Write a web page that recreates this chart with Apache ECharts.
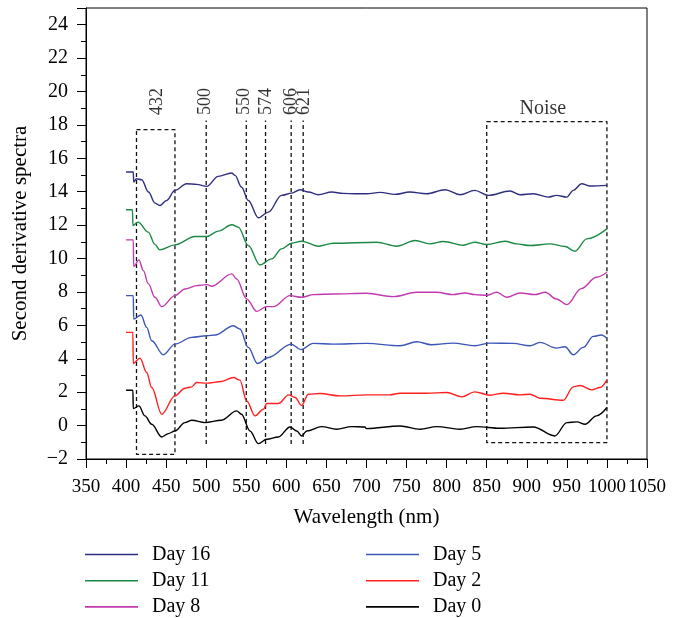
<!DOCTYPE html>
<html>
<head>
<meta charset="utf-8">
<script src="https://cdn.jsdelivr.net/npm/echarts@6/dist/echarts.min.js"></script>
<style>
  html, body { margin: 0; padding: 0; background: #fff; }
  #chart { width: 673px; height: 618px; }
</style>
</head>
<body>
<div id="chart"></div>
<script>
// Second derivative spectra, [wavelength (nm), value]
const day16 = [[400,15.18],[409,15.18],[409.5,14.58],[413,14.78],[419.5,14.72],[428,13.98],[436,13.32],[442,13.18],[450.7,13.48],[461,14.08],[475.6,14.48],[488,14.44],[500.6,14.32],[515,14.92],[531.8,15.12],[536,14.98],[544,14.28],[552.5,13.48],[565,12.44],[577.5,12.78],[594,13.78],[606.7,13.92],[617,14.12],[627.5,13.98],[640,13.82],[656.6,13.98],[671,13.9],[685.7,13.88],[700,13.88],[717,13.96],[735.6,13.84],[754,13.98],[775,13.88],[798,14.12],[816.7,13.82],[835,14.08],[852,13.78],[879,14.04],[891.6,13.82],[908,13.88],[927,13.68],[937,13.78],[950,13.68],[958,14.08],[968.5,14.48],[979,14.34],[1000,14.38]];
const day11 = [[400,12.92],[408,12.92],[408.5,11.98],[415,12.18],[427.7,11.58],[436,10.85],[442,10.52],[461,10.82],[486,11.32],[500.6,11.32],[515,11.64],[532,12.02],[540,11.88],[552.5,10.78],[567,9.62],[581.7,9.98],[594,10.58],[606.7,10.92],[619,11.04],[640,10.74],[658.6,10.92],[712.8,10.98],[737.6,10.74],[760.6,11.08],[779,10.88],[796,11.02],[820.8,10.8],[835,10.98],[850,10.84],[872.8,11.04],[887,10.88],[904,10.78],[929,10.88],[947.7,10.72],[960,10.44],[974.8,11.18],[1000,11.78]];
const day8 = [[400,11.12],[409,11.12],[409.5,9.52],[416,9.92],[421.6,9.28],[427.7,8.5],[436,7.68],[444.5,7.12],[461,7.78],[473.5,8.18],[488,8.38],[500.6,8.44],[507,8.34],[532,9.08],[538,8.78],[550.5,7.58],[563,6.84],[575.5,7.12],[583.7,7.12],[604.6,7.78],[619,7.68],[633.6,7.84],[658.6,7.88],[700,7.92],[733.5,7.72],[762.7,7.98],[787.7,7.98],[808,7.84],[823,7.94],[835,7.84],[850,7.8],[862.5,7.98],[875,7.68],[891.6,7.94],[910,7.84],[923,7.98],[937,7.58],[950,7.24],[968,8.2],[987,8.88],[1000,9.18]];
const day5 = [[400,7.78],[409,7.78],[409.5,6.38],[418.6,6.62],[425.7,5.88],[432,5.08],[446.5,4.24],[461,4.88],[482,5.28],[500.6,5.38],[511,5.42],[534,5.98],[542,5.78],[552.5,4.68],[564,3.72],[577.5,4.08],[606,4.88],[618,4.55],[633.6,4.92],[658.6,4.88],[700,4.92],[742,4.78],[762.7,5.02],[781,4.84],[808,4.94],[835,4.78],[854,4.94],[883,4.92],[904,4.78],[916.5,4.98],[937,4.64],[947.7,4.72],[958,4.24],[970.5,4.68],[983,5.34],[993,5.42],[1000,5.22]];
const day2 = [[400,5.58],[408.5,5.58],[409,3.72],[417.4,4.04],[425.7,3.18],[432,2.28],[444.5,0.68],[461,1.78],[473.5,2.24],[482,2.32],[488,2.58],[500.6,2.54],[519,2.64],[534,2.88],[542,2.72],[550.5,1.48],[561,0.58],[571.4,0.98],[575.5,1.32],[590,1.32],[603,1.84],[611,1.68],[619,1.2],[627.5,1.88],[642,1.92],[667,1.78],[700,1.84],[729,1.84],[742,1.94],[775,1.94],[800,1.98],[819,1.72],[835,2.02],[854,1.82],[870.7,1.94],[891.6,1.84],[904,1.88],[916.5,1.64],[945.6,1.52],[958,2.32],[966.4,2.4],[981,2.14],[991.4,2.28],[1000,2.74]];
const day0 = [[400,2.12],[408.5,2.12],[409,1.02],[416,1.18],[423.6,0.58],[432,0.08],[444.5,-0.68],[452.7,-0.48],[461,-0.32],[473.5,0.18],[482,0.32],[498.5,0.18],[519,0.32],[538,0.88],[544,0.68],[554.6,-0.32],[565,-1.08],[575.5,-0.82],[590,-0.68],[604.6,-0.08],[613,-0.32],[619,-0.62],[625.5,-0.32],[644,-0.06],[662.7,-0.22],[681.5,-0.06],[698,-0.08],[700,-0.18],[742,-0.02],[767,-0.22],[787.7,-0.06],[816.7,-0.22],[837.5,-0.06],[866.6,-0.16],[908,-0.08],[935,-0.62],[950,0.18],[962.5,0.22],[972.8,0.08],[987,0.58],[1000,1.08]];

const seriesNames = ['Day 16','Day 11','Day 8','Day 5','Day 2','Day 0'];
const seriesColors = ['#2e2f80','#1b8a45','#c23ab0','#3b55b8','#ff1f1f','#000000'];
const seriesData = [day16, day11, day8, day5, day2, day0];

// Marked wavelengths (dashed guides) and their labels
const guideWavelengths = [500, 550, 574, 606, 621];
const guideSpan = [-1.1, 18.27];
const peakLabels = [[438.6,19.4,'432'],[498.5,19.4,'500'],[547,19.4,'550'],[575.5,19.4,'574'],[606.7,19.4,'606'],[622,19.4,'621']];
// Dashed boxes: [x0, x1, yBottom, yTop]
const box432 = [413, 461, -1.72, 17.72];
const boxNoise = [850, 1000, -1.02, 18.2];
const noiseLabel = [[920, 18.95, 'Noise']];

const FONT = 'Liberation Serif';
const dash = { color: '#111', width: 1.3, type: [4, 3] };

function boxPath(b) {
  return [[b[0],b[3]],[b[1],b[3]],[b[1],b[2]],[b[0],b[2]],[b[0],b[3]]];
}

const series = seriesNames.map((n, i) => ({
  name: n, type: 'line', data: seriesData[i], showSymbol: false, symbol: 'none',
  smooth: 0.35, smoothMonotone: 'x',
  lineStyle: { color: seriesColors[i], width: 1.4 }, itemStyle: { color: seriesColors[i] },
  silent: true, z: 3
}));

guideWavelengths.forEach(w => {
  series.push({ type: 'line', data: [[w, guideSpan[0]], [w, guideSpan[1]]], symbol: 'none', lineStyle: dash, silent: true, z: 2 });
});
series.push({ type: 'line', data: boxPath(box432), symbol: 'none', lineStyle: dash, silent: true, z: 2 });
series.push({ type: 'line', data: boxPath(boxNoise), symbol: 'none', lineStyle: dash, silent: true, z: 2 });
series.push({
  type: 'scatter', data: peakLabels, symbolSize: 0, silent: true,
  label: { show: true, position: 'inside', rotate: 90, formatter: p => p.value[2], fontFamily: FONT, fontSize: 18, color: '#000' }
});
series.push({
  type: 'scatter', data: noiseLabel, symbolSize: 0, silent: true,
  label: { show: true, position: 'inside', formatter: p => p.value[2], fontFamily: FONT, fontSize: 20, color: '#000' }
});

const legendText = { fontFamily: FONT, fontSize: 20, lineHeight: 20, color: '#000', padding: [0, 0, 0, 9] };
const legendBase = { orient: 'vertical', top: 544.5, padding: 0, icon: 'rect', itemWidth: 53, itemHeight: 1.6, itemGap: 6.2, textStyle: legendText };
const chart = echarts.init(document.getElementById('chart'), null, { renderer: 'canvas' });
chart.setOption({
  animation: false,
  backgroundColor: '#fff',
  grid: { left: 86, right: 26, top: 8, bottom: 159, show: true, borderColor: '#000', borderWidth: 1, backgroundColor: 'transparent', outerBoundsMode: 'none' },
  legend: [
    Object.assign({ data: seriesNames.slice(0, 3), left: 85 }, legendBase),
    Object.assign({ data: seriesNames.slice(3), left: 366 }, legendBase)
  ],
  xAxis: {
    type: 'value', min: 350, max: 1050, interval: 50,
    name: 'Wavelength (nm)', nameLocation: 'middle', nameGap: 48,
    nameTextStyle: { fontFamily: FONT, fontSize: 21, color: '#000' },
    axisLine: { onZero: false, lineStyle: { color: '#000', width: 1 } },
    axisTick: { inside: false, length: 9, lineStyle: { color: '#000' } },
    minorTick: { show: true, splitNumber: 2, length: 5, lineStyle: { color: '#000' } },
    splitLine: { show: false },
    axisLabel: { fontFamily: FONT, fontSize: 19, color: '#000', margin: 19, formatter: v => String(v) }
  },
  yAxis: {
    type: 'value', min: -2, max: 25, interval: 2,
    name: 'Second derivative spectra', nameLocation: 'middle', nameGap: 55, nameRotate: 90,
    nameTextStyle: { fontFamily: FONT, fontSize: 21, color: '#000' },
    axisLine: { show: true, onZero: false, lineStyle: { color: '#000', width: 1 } },
    axisTick: { show: true, inside: false, length: 9, lineStyle: { color: '#000' } },
    minorTick: { show: true, splitNumber: 2, length: 5, lineStyle: { color: '#000' } },
    splitLine: { show: false },
    axisLabel: { fontFamily: FONT, fontSize: 20, color: '#000', margin: 18, showMaxLabel: false,
      formatter: v => (v === 25 ? '' : String(v).replace('-', '\u2212')) }
  },
  series: series
});
</script>
</body>
</html>
